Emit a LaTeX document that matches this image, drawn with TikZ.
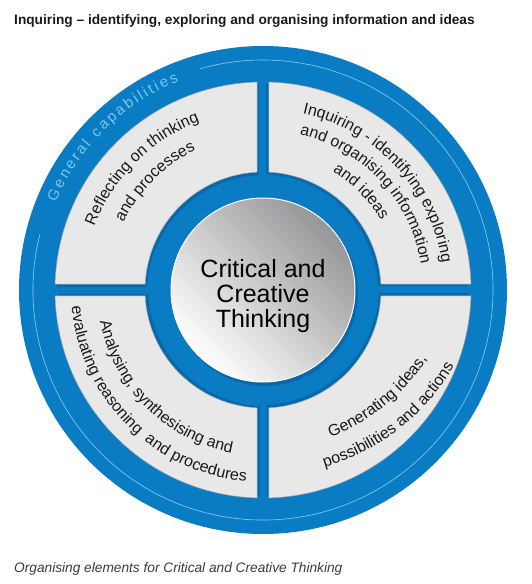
\documentclass[tikz,border=0pt]{standalone}
\usepackage{fontspec}
\setmainfont{Liberation Sans}
\usepackage{xcolor}
\usepackage{tikz}
\usetikzlibrary{decorations.text}

\definecolor{capblue}{RGB}{10,124,196}
\definecolor{capdark}{RGB}{0,70,130}
\definecolor{capgrey}{RGB}{232,232,232}
\definecolor{capedge}{RGB}{165,165,165}
\definecolor{capline}{RGB}{140,205,240}
\definecolor{caplabel}{RGB}{120,200,242}
\definecolor{capmid}{RGB}{150,150,152}
\definecolor{capink}{RGB}{25,25,25}

\newcommand{\panelfont}{\fontsize{16}{16}\selectfont}

\begin{document}
\begin{tikzpicture}[
  x=1pt, y=1pt,
  panelpath/.style={insert path={(91.65:208) arc[start angle=91.65, end angle=178.35, radius=208]
    -- (177.09:118) arc[start angle=177.09, end angle=92.91, radius=118] -- cycle}},
  panel/.style={fill=capgrey, draw=capedge, line width=0.5pt},
  panelshade/.style={fill=capdark, opacity=0.35},
  hub/.style={circle, minimum size=184pt, inner sep=0pt, draw=white, line width=1pt,
    top color=capmid, bottom color=white, shading angle=-45},
  hubtext/.style={align=center, inner sep=0pt, text=black, font=\fontsize{25}{25}\selectfont},
  title/.style={anchor=base west, inner sep=0pt, text=capink, font=\fontsize{13.7}{16}\selectfont\bfseries},
  caption/.style={anchor=base west, inner sep=0pt, text=capink!85, font=\fontsize{13.7}{16}\selectfont\itshape},
  along/.style={decorate, decoration={text along path, text align=center, text color=capink, text={|\panelfont|#1}}}
]
\useasboundingbox (-263,-294) rectangle (268,290);

% ring and general capabilities band
\fill[capblue] (0,0) circle[radius=244];
\draw[capline, line width=0.6pt] (166:230) arc[start angle=166, end angle=466, radius=230];
\path[decorate, decoration={text along path, text align=fit to path, text color=caplabel,
  text={|\fontsize{15}{15}\selectfont|General capabilities}}]
  (157:225) arc[start angle=157, end angle=112, radius=225];

% the four panels
\foreach \r in {0,90,180,270} {
  \begin{scope}[rotate=\r]
    \fill[panelshade, shift={(2,-3)}, panelpath];
    \path[panel, panelpath];
  \end{scope}
}

% centre
\fill[panelshade] (2,-3) circle[radius=93];
\node[hub] (hub) at (0,0) {};
\node[hubtext] (hubtext) at (0,-6.5) {Critical and\\Creative\\Thinking};

% panel texts
\path[along={Reflecting on thinking}] (178:180) arc[start angle=178, end angle=92, radius=180];
\path[along={and processes}] (178:155) arc[start angle=178, end angle=92, radius=155];

\path[along={Inquiring - identifying exploring}] (86:181) arc[start angle=86, end angle=0, radius=181];
\path[along={and organising information}] (86:160) arc[start angle=86, end angle=0, radius=160];
\path[along={and ideas}] (88:137) arc[start angle=88, end angle=2, radius=137];

\path[along={Analysing, synthesising and}] (182:166) arc[start angle=182, end angle=268, radius=166];
\path[along={evaluating reasoning \ and procedures}] (182:192) arc[start angle=182, end angle=268, radius=192];

\begin{scope}[shift={(0,35)}]
  \path[along={Generating ideas,}] (-95:194) arc[start angle=-95, end angle=-7, radius=194];
  \path[along={possibilities and actions}] (-96:221) arc[start angle=-96, end angle=-8, radius=221];
\end{scope}

% heading and caption
\node[title] (title) at (-249,265) {Inquiring – identifying, exploring and organising information and ideas};
\node[caption] (caption) at (-249,-282) {Organising elements for Critical and Creative Thinking};
\end{tikzpicture}
\end{document}
